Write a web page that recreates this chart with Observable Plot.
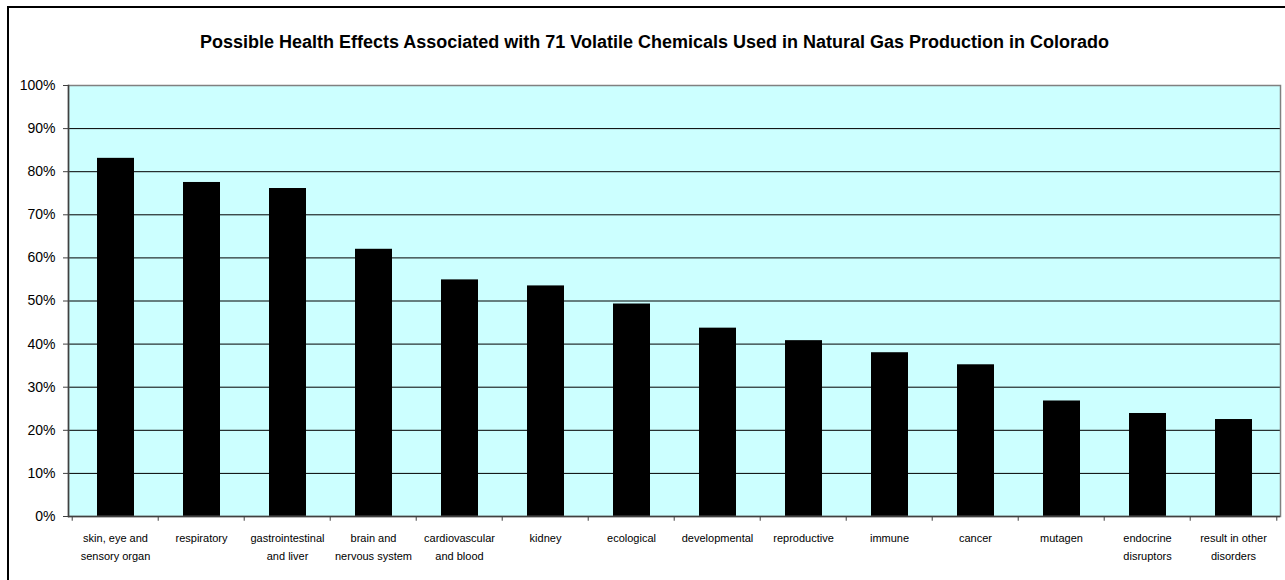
<!DOCTYPE html>
<html><head><meta charset="utf-8">
<script src="https://cdn.jsdelivr.net/npm/d3@7"></script>
<script src="https://cdn.jsdelivr.net/npm/@observablehq/plot@0.6"></script>
<style>
body{margin:0;background:#fff;overflow:hidden;}
#wrap{position:relative;width:1285px;height:580px;overflow:hidden;}
#border{position:absolute;left:7px;top:6px;width:1290px;height:590px;border:2px solid #000;box-sizing:border-box;}
#title{position:absolute;top:32px;left:0;width:1309px;text-align:center;font:bold 18px "Liberation Sans",Arial,sans-serif;color:#000;white-space:nowrap;}
#chart{position:absolute;left:0;top:0;}
</style></head><body>
<div id="wrap"><div id="border"></div><div id="title"></div><div id="chart"></div></div>
<script>
const title = "Possible Health Effects Associated with 71 Volatile Chemicals Used in Natural Gas Production in Colorado";
const categories = ["skin, eye and sensory organ","respiratory","gastrointestinal and liver","brain and nervous system","cardiovascular and blood","kidney","ecological","developmental","reproductive","immune","cancer","mutagen","endocrine disruptors","result in other disorders"];
const tickLabels = ["skin, eye and\nsensory organ","respiratory","gastrointestinal\nand liver","brain and\nnervous system","cardiovascular\nand blood","kidney","ecological","developmental","reproductive","immune","cancer","mutagen","endocrine\ndisruptors","result in other\ndisorders"];
const percents = [83.1, 77.5, 76.1, 62.0, 54.9, 53.5, 49.3, 43.7, 40.8, 38.0, 35.2, 26.8, 23.9, 22.5];
const yTicks = [0,10,20,30,40,50,60,70,80,90,100];

document.getElementById("title").textContent = title;
const data = categories.map((c, i) => ({category: c, value: percents[i]}));
const labelOf = new Map(categories.map((c, i) => [c, tickLabels[i]]));

const W = 1285, H = 580, ML = 68, MR = 5, MT = 85, MB = 64;
const halfBand = (W - ML - MR) / categories.length / 2;

const chart = Plot.plot({
  width: W, height: H,
  marginLeft: ML, marginRight: MR, marginTop: MT, marginBottom: MB,
  style: {fontFamily: "'Liberation Sans', Arial, sans-serif", background: "transparent", color: "#000"},
  x: {type: "band", domain: categories, padding: 0, label: null},
  y: {domain: [0, 100], label: null},
  marks: [
    Plot.frame({fill: "#ccffff", stroke: null}),
    Plot.ruleY(yTicks.slice(1, -1), {stroke: "#000", strokeWidth: 1}),
    Plot.barY(data, {x: "category", y: "value", fill: "#000", insetLeft: 25, insetRight: 24}),
    Plot.frame({stroke: "#808080", strokeWidth: 1.5}),
    Plot.ruleY([0], {stroke: "#404040", strokeWidth: 1.5}),
    Plot.frame({anchor: "left", stroke: "#404040", strokeWidth: 1.5}),
    Plot.axisY({ticks: yTicks, tickSize: 5, tickPadding: 8, tickFormat: d => d + "%", fontSize: 14, label: null, stroke: "#404040"}),
    Plot.ruleX(categories, {x: d => d, y1: 0, y2: -1.1, dx: -halfBand, stroke: "#404040"}),
    Plot.ruleX(categories.slice(-1), {x: d => d, y1: 0, y2: -1.1, dx: halfBand, stroke: "#404040"}),
    Plot.axisX({tickSize: 0, tickPadding: 12, tickFormat: d => labelOf.get(d), fontSize: 11, lineHeight: 1.7, label: null})
  ]
});
document.getElementById("chart").appendChild(chart);
</script>
</body></html>
